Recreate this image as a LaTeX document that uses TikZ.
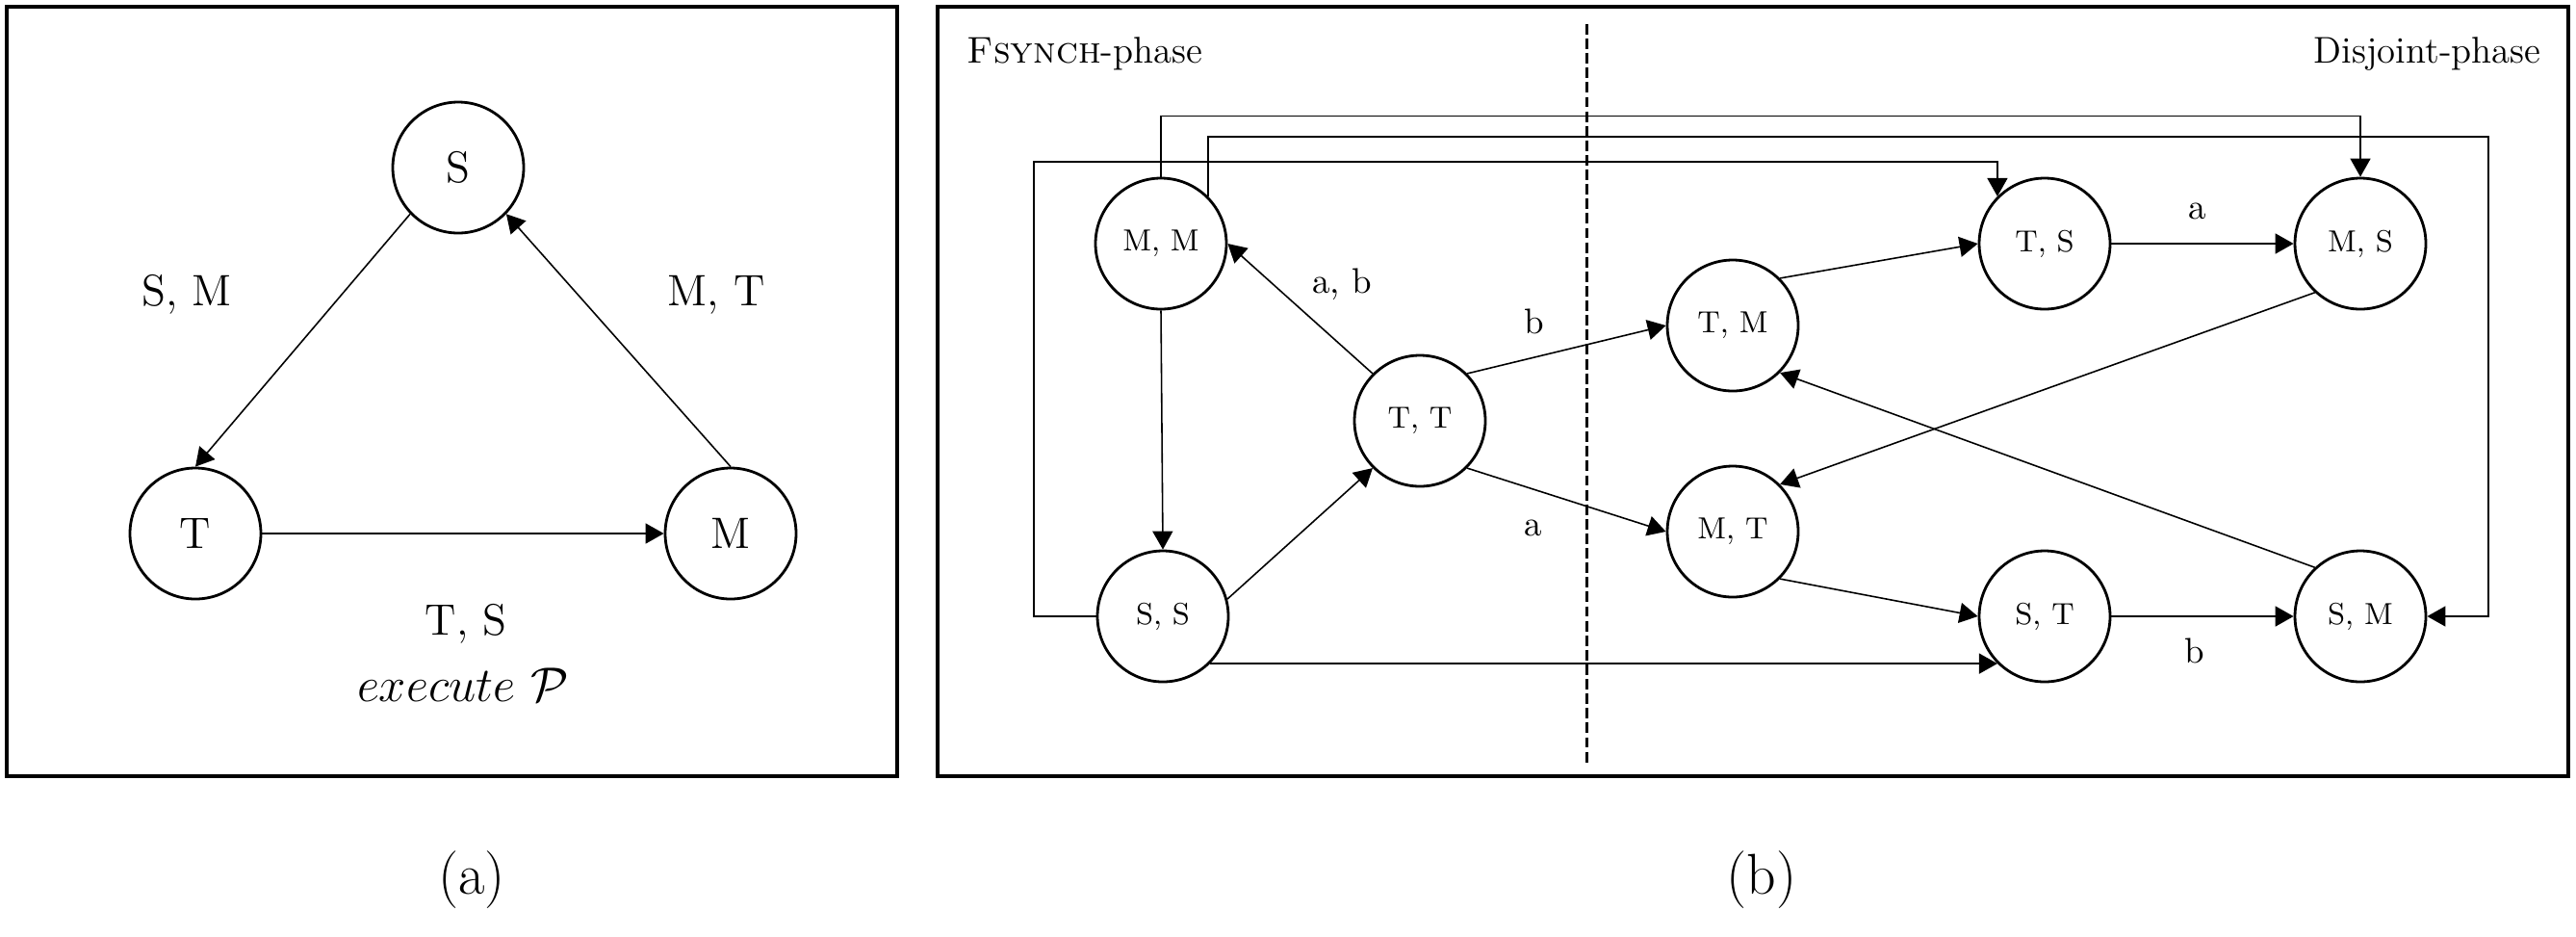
\documentclass[tikz,border=0pt]{standalone}
\usepackage{tikz}
\usepackage{amsmath}
\usepackage{amssymb}
\usetikzlibrary{shapes,arrows.meta}

\begin{document}
\begin{tikzpicture}[
    stNode/.style={circle, draw, line width=0.8pt, minimum size=1.36cm, inner sep=0pt},
    stEdge/.style={line width=0.45pt, -{Triangle[length=1.9mm,width=2.1mm]}},
    stFrame/.style={line width=1.3pt}]
    \useasboundingbox (0,0) rectangle (26.76,-9.72);

    % (a) three-state cycle
    \draw[stFrame] (0.07,-0.07) rectangle (9.32,-8.06);
    \begin{scope}[font=\fontsize{13}{15}\selectfont]
    \node[stNode] (s) at (4.76,-1.74) {S};
    \node[stNode] (t) at (2.03,-5.54) {T};
    \node[stNode] (m) at (7.59,-5.54) {M};
    \draw[stEdge] (s.224) -- (t.north);
    \draw[stEdge] (t.east) -- (m.west);
    \draw[stEdge] (m.north) -- (s.-44);
    \node (lSM) at (1.94,-3.06) {S, M};
    \node (lMT) at (7.44,-3.06) {M, T};
    \node (lTS) at (4.84,-6.48) {T, S};
    \node[font=\fontsize{14}{16}\selectfont] (lExe) at (4.81,-7.11) {$execute\ \mathcal{P}$};
    \end{scope}
    \node[font=\fontsize{17}{20}\selectfont] (capA) at (4.90,-9.14) {(a)};

    % (b) Fsynch-phase and Disjoint-phase
    \draw[stFrame] (9.74,-0.07) rectangle (26.68,-8.06);
    \draw[line width=0.85pt, dash pattern=on 3.1pt off 1.2pt] (16.48,-0.25) -- (16.48,-7.93);
    \node[anchor=base west, inner sep=0pt, font=\fontsize{11}{13}\selectfont] (phF) at (10.04,-0.65) {\textsc{Fsynch}-phase};
    \node[anchor=base east, inner sep=0pt, font=\fontsize{11}{13}\selectfont] (phD) at (26.40,-0.65) {Disjoint-phase};

    \begin{scope}[font=\fontsize{9}{11}\selectfont]
    \node[stNode] (mm) at (12.06,-2.53) {M, M};
    \node[stNode] (ss) at (12.08,-6.40) {S, S};
    \node[stNode] (tt) at (14.75,-4.37) {T, T};
    \node[stNode] (tm) at (18.00,-3.38) {T, M};
    \node[stNode] (mt) at (18.00,-5.52) {M, T};
    \node[stNode] (ts) at (21.24,-2.53) {T, S};
    \node[stNode] (ms) at (24.52,-2.53) {M, S};
    \node[stNode] (st) at (21.24,-6.40) {S, T};
    \node[stNode] (sm) at (24.52,-6.40) {S, M};
    \end{scope}

    \draw[stEdge] (tt.135) -- (mm.east);
    \draw[stEdge] (mm.south) -- (ss.north);
    \draw[stEdge] (ss.15) -- (tt.225);
    \draw[stEdge] (tt.45) -- (tm.west);
    \draw[stEdge] (tt.-45) -- (mt.west);
    \draw[stEdge] (tm.45) -- (ts.west);
    \draw[stEdge] (ts.east) -- (ms.west);
    \draw[stEdge] (ms.227) -- (mt.45);
    \draw[stEdge] (sm.133) -- (tm.-45);
    \draw[stEdge] (mt.-45) -- (st.west);
    \draw[stEdge] (st.east) -- (sm.west);
    \draw[stEdge] (ss.-45) -- (st.225);

    % long routed connectors
    \coordinate (cornL) at (10.74,-1.68);
    \coordinate (cornR) at (25.85,-1.42);
    \draw[stEdge] (ss.west) -| (cornL) -| (ts.135);
    \draw[stEdge] (mm.north) -- ++(0,0.63) -| (ms.north);
    \draw[stEdge] (mm.45) |- (cornR) |- (sm.east);

    \begin{scope}[font=\fontsize{10.5}{12}\selectfont]
    \node (lAB) at (13.94,-2.95) {a, b};
    \node (lB1) at (15.94,-3.34) {b};
    \node (lA1) at (15.93,-5.48) {a};
    \node (lA2) at (22.83,-2.19) {a};
    \node (lB2) at (22.80,-6.76) {b};
    \end{scope}
    \node[font=\fontsize{17}{20}\selectfont] (capB) at (18.30,-9.14) {(b)};
\end{tikzpicture}
\end{document}
